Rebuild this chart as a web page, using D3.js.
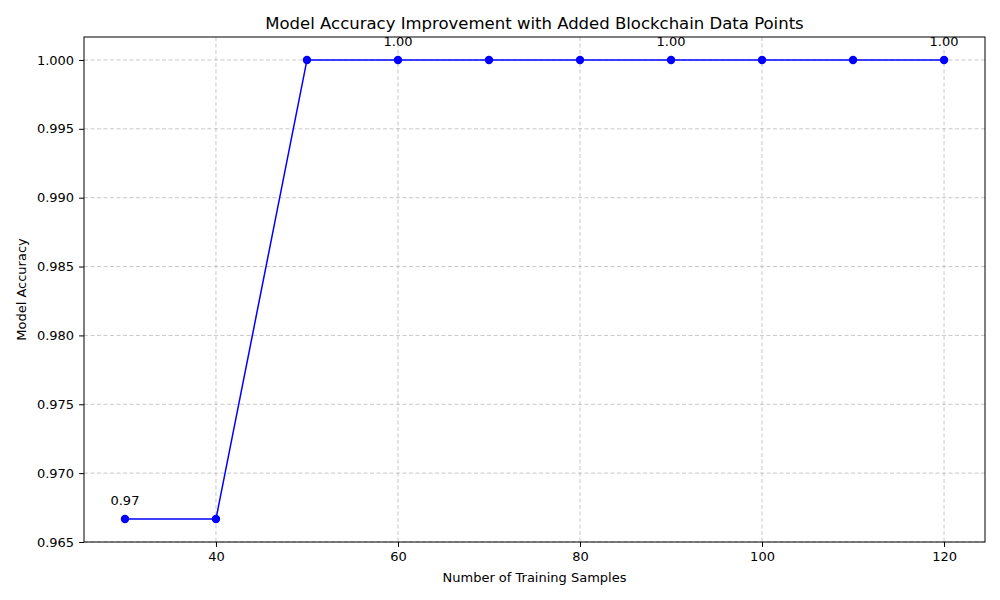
<!DOCTYPE html>
<html><head><meta charset="utf-8">
<script src="https://cdn.jsdelivr.net/npm/d3@7"></script>
<style>body{margin:0;background:#fff;font-family:"DejaVu Sans",sans-serif;}</style>
</head><body><div id="chart"></div>
<script>
var samples = [30, 40, 50, 60, 70, 80, 90, 100, 110, 120];
var accuracy = [0.96667, 0.96667, 1, 1, 1, 1, 1, 1, 1, 1];
var yTicks = [0.965, 0.970, 0.975, 0.980, 0.985, 0.990, 0.995, 1.000];
var xTicks = [40, 60, 80, 100, 120];

var margin = {top: 37, right: 15, bottom: 58, left: 84};
var width = 1000 - margin.left - margin.right;
var height = 600 - margin.top - margin.bottom;

var svg = d3.select("#chart").append("svg").attr("width", 1000).attr("height", 600);
var g = svg.append("g").attr("transform", `translate(${margin.left},${margin.top})`);

var x = d3.scaleLinear().domain([25.5, 124.5]).range([0, width]);
var y = d3.scaleLinear().domain([0.965, 1.001667]).range([height, 0]);

// grid
g.selectAll(".gx").data(xTicks).enter().append("line")
  .attr("x1", d => x(d)).attr("x2", d => x(d)).attr("y1", 0).attr("y2", height)
  .attr("stroke", "#b0b0b0").attr("stroke-opacity", 0.7).attr("stroke-dasharray", "4,2.5");
g.selectAll(".gy").data(yTicks).enter().append("line")
  .attr("y1", d => y(d)).attr("y2", d => y(d)).attr("x1", 0).attr("x2", width)
  .attr("stroke", "#b0b0b0").attr("stroke-opacity", 0.7).attr("stroke-dasharray", "4,2.5");

var xAxis = g.append("g").attr("transform", `translate(0,${height})`)
  .call(d3.axisBottom(x).tickValues(xTicks).tickSizeOuter(0).tickSize(4.9).tickPadding(5));
var yAxis = g.append("g")
  .call(d3.axisLeft(y).tickValues(yTicks).tickFormat(d3.format(".3f")).tickSizeOuter(0).tickSize(4.9).tickPadding(5));
[xAxis, yAxis].forEach(a => {
  a.selectAll("text").style("font-size", "13px").style("font-family", "DejaVu Sans").attr("fill", "#000");
  a.select(".domain").remove();
});

g.append("rect").attr("width", width).attr("height", height)
  .attr("fill", "none").attr("stroke", "#000").attr("stroke-width", 1);

var line = d3.line().x((d, i) => x(samples[i])).y(d => y(d));
g.append("path").datum(accuracy).attr("d", line)
  .attr("fill", "none").attr("stroke", "#0000ff").attr("stroke-width", 1.5);
g.selectAll(".pt").data(accuracy).enter().append("circle")
  .attr("cx", (d, i) => x(samples[i])).attr("cy", d => y(d)).attr("r", 4.2).attr("fill", "#0000ff");

g.selectAll(".ann").data(accuracy.map((d, i) => [samples[i], d]).filter((d, i) => i % 3 === 0))
  .enter().append("text")
  .attr("x", d => x(d[0])).attr("y", d => y(d[1]) - 14)
  .attr("text-anchor", "middle").style("font-size", "13px")
  .text(d => d[1].toFixed(2));

svg.append("text").attr("x", margin.left + width / 2).attr("y", 29)
  .attr("text-anchor", "middle").style("font-size", "16.5px")
  .text("Model Accuracy Improvement with Added Blockchain Data Points");
svg.append("text").attr("x", margin.left + width / 2).attr("y", 582)
  .attr("text-anchor", "middle").style("font-size", "13px").text("Number of Training Samples");
svg.append("text").attr("transform", `translate(26,${margin.top + height / 2}) rotate(-90)`)
  .attr("text-anchor", "middle").style("font-size", "13px").text("Model Accuracy");
</script></body></html>
